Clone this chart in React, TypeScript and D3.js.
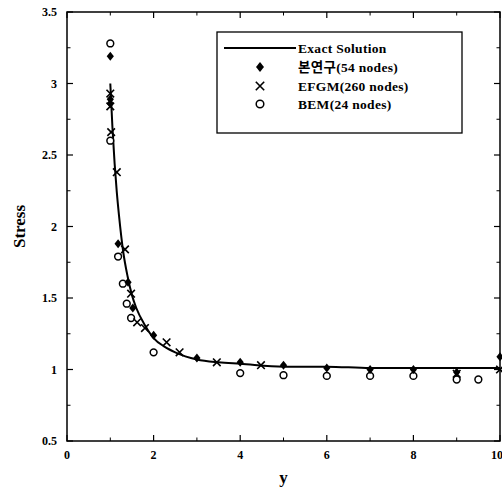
import React from 'react';
import * as d3 from 'd3';

// exact solution
const EXACT_Y = [1, 1.05, 1.1, 1.15, 1.2, 1.3, 1.4, 1.5, 1.6, 1.8, 2, 2.25, 2.5, 3, 3.5, 4, 5, 6, 7, 8, 9, 10];
const EXACT_S = [3.0, 2.69, 2.44, 2.24, 2.08, 1.82, 1.65, 1.52, 1.43, 1.31, 1.22, 1.16, 1.12, 1.07, 1.05, 1.04, 1.02, 1.02, 1.01, 1.01, 1.01, 1.01];

// 본연구 (54 nodes)
const PRESENT_Y = [1, 1, 1, 1.18, 1.41, 1.52, 2, 3, 4, 5, 6, 7, 8, 9, 10];
const PRESENT_S = [3.19, 2.89, 2.86, 1.88, 1.61, 1.43, 1.24, 1.08, 1.05, 1.03, 1.01, 1.0, 1.0, 0.98, 1.09];

// EFGM (260 nodes)
const EFGM_Y = [1, 1, 1.02, 1.15, 1.34, 1.48, 1.62, 1.8, 2.3, 2.6, 3.46, 4.48, 9, 10];
const EFGM_S = [2.93, 2.84, 2.66, 2.38, 1.84, 1.53, 1.33, 1.29, 1.19, 1.12, 1.05, 1.03, 0.97, 1.0];

// BEM (24 nodes)
const BEM_Y = [1, 1, 1.18, 1.29, 1.38, 1.48, 2, 4, 5, 6, 7, 8, 9, 9.5];
const BEM_S = [3.28, 2.6, 1.79, 1.6, 1.46, 1.36, 1.12, 0.975, 0.96, 0.955, 0.955, 0.955, 0.93, 0.93];

const X_TICKS = [0, 2, 4, 6, 8, 10];
const X_MINOR = [1, 3, 5, 7, 9];
const Y_TICKS = [0.5, 1, 1.5, 2, 2.5, 3, 3.5];
const Y_MINOR = [0.75, 1.25, 1.75, 2.25, 2.75, 3.25];

const LEGEND = ['Exact Solution', '본연구(54 nodes)', 'EFGM(260 nodes)', 'BEM(24 nodes)'];

const FONT = '"Liberation Serif", "Noto Sans CJK KR", serif';

const Diamond = ({ x, y, r = 4.5 }: { x: number; y: number; r?: number }) => (
  <path d={`M${x},${y - r}L${x + r * 0.8},${y}L${x},${y + r}L${x - r * 0.8},${y}Z`} fill="#000" />
);
const Cross = ({ x, y, r = 3.8 }: { x: number; y: number; r?: number }) => (
  <path d={`M${x - r},${y - r}L${x + r},${y + r}M${x - r},${y + r}L${x + r},${y - r}`} stroke="#000" strokeWidth={1.6} />
);
const Circle = ({ x, y, r = 3.4 }: { x: number; y: number; r?: number }) => (
  <circle cx={x} cy={y} r={r} fill="#fff" stroke="#000" strokeWidth={1.5} />
);

export default function App() {
  const width = 502;
  const height = 491;
  const left = 67, right = 500, top = 12, bottom = 441;

  const x = d3.scaleLinear().domain([0, 10]).range([left, right]);
  const y = d3.scaleLinear().domain([0.5, 3.5]).range([bottom, top]);

  const line = d3.line<number>()
    .x((_, i) => x(EXACT_Y[i]))
    .y(d => y(d))
    .curve(d3.curveMonotoneX);

  const major = 6, minor = 3.5;

  const legX = 217, legY = 32, legW = 245, legH = 101;
  const rowY = [48, 67, 86, 104];

  return (
    <svg width={width} height={height} style={{ position: 'absolute', left: 0, top: 0, background: '#fff' }}>
      {/* frame */}
      <rect x={left} y={top} width={right - left} height={bottom - top} fill="none" stroke="#000" strokeWidth={1.5} />

      {/* x ticks, mirrored on top */}
      {X_TICKS.map(t => (
        <g key={'xt' + t}>
          <line x1={x(t)} x2={x(t)} y1={bottom} y2={bottom - major} stroke="#000" strokeWidth={1.2} />
          <line x1={x(t)} x2={x(t)} y1={top} y2={top + major} stroke="#000" strokeWidth={1.2} />
          <text x={t === 10 ? x(t) - 3 : x(t)} y={bottom + 18} textAnchor="middle" fontFamily={FONT} fontWeight="bold" fontSize={12}>{t}</text>
        </g>
      ))}
      {X_MINOR.map(t => (
        <g key={'xm' + t}>
          <line x1={x(t)} x2={x(t)} y1={bottom} y2={bottom - minor} stroke="#000" strokeWidth={1} />
          <line x1={x(t)} x2={x(t)} y1={top} y2={top + minor} stroke="#000" strokeWidth={1} />
        </g>
      ))}

      {/* y ticks, mirrored on right */}
      {Y_TICKS.map(t => (
        <g key={'yt' + t}>
          <line x1={left} x2={left + major} y1={y(t)} y2={y(t)} stroke="#000" strokeWidth={1.2} />
          <line x1={right} x2={right - major} y1={y(t)} y2={y(t)} stroke="#000" strokeWidth={1.2} />
          <text x={left - 10} y={y(t) + 4} textAnchor="end" fontFamily={FONT} fontWeight="bold" fontSize={12}>{t}</text>
        </g>
      ))}
      {Y_MINOR.map(t => (
        <g key={'ym' + t}>
          <line x1={left} x2={left + minor} y1={y(t)} y2={y(t)} stroke="#000" strokeWidth={1} />
          <line x1={right} x2={right - minor} y1={y(t)} y2={y(t)} stroke="#000" strokeWidth={1} />
        </g>
      ))}

      {/* axis titles */}
      <text x={(left + right) / 2} y={483} textAnchor="middle" fontFamily={FONT} fontWeight="bold" fontSize={17}>y</text>
      <text transform={`translate(25,${(top + bottom) / 2}) rotate(-90)`} textAnchor="middle" fontFamily={FONT} fontWeight="bold" fontSize={17}>Stress</text>

      {/* exact curve */}
      <path d={line(EXACT_S) || ''} fill="none" stroke="#000" strokeWidth={2} />

      {/* markers */}
      {BEM_Y.map((v, i) => <Circle key={'b' + i} x={x(v)} y={y(BEM_S[i])} />)}
      {PRESENT_Y.map((v, i) => <Diamond key={'p' + i} x={x(v)} y={y(PRESENT_S[i])} />)}
      {EFGM_Y.map((v, i) => <Cross key={'e' + i} x={x(v)} y={y(EFGM_S[i])} />)}

      {/* legend */}
      <rect x={legX} y={legY} width={legW} height={legH} fill="#fff" stroke="#000" strokeWidth={1.3} />
      <line x1={224} x2={296} y1={rowY[0]} y2={rowY[0]} stroke="#000" strokeWidth={2} />
      <Diamond x={260} y={rowY[1]} r={5} />
      <Cross x={260} y={rowY[2]} r={4.2} />
      <Circle x={260} y={rowY[3]} r={3.8} />
      {LEGEND.map((l, i) => (
        <text key={l} x={298} y={rowY[i] + 4.5} fontFamily={FONT} fontWeight="bold" fontSize={13.5} letterSpacing={0.3}>{l}</text>
      ))}
    </svg>
  );
}
